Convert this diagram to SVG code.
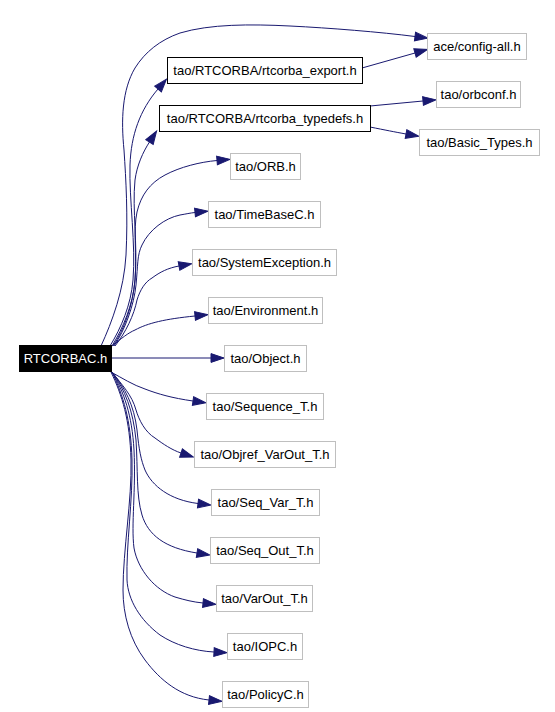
<svg xmlns="http://www.w3.org/2000/svg" width="555" height="712" viewBox="0 0 555 712">
<style>
.n rect{fill:#ffffff;stroke:#bfbfbf;stroke-width:1}
.n.b rect{stroke:#000000}
.n.r rect{fill:#000000;stroke:#000000}
.n text{font-family:"Liberation Sans",Arial,sans-serif;font-size:13px;fill:#000000;text-anchor:middle}
.n.r text{fill:#ffffff}
#edges path{fill:none;stroke:#191970;stroke-width:1;marker-end:url(#ah)}
</style>
<defs>
<marker id="ah" markerUnits="userSpaceOnUse" orient="auto" markerWidth="14" markerHeight="10" refX="0" refY="5" overflow="visible">
<path d="M0,0.6 L13,5 L0,9.4 z" fill="#191970" stroke="#191970" stroke-width="1"/>
</marker>
</defs>
<rect width="555" height="712" fill="#ffffff"/>
<g id="edges">
<path d="M101,346 C112,322 124,290 126,255 C128,215 126,180 124,150 C121,120 122,90 135,68 C145,52 160,40 180,33 C210,24 250,24 290,26 C330,28 380,32 415,36.5"/>
<path d="M110,346 C121,328 131,305 133,280 C136,245 129,200 130,165 C131,135 140,110 158,89"/>
<path d="M112,346 C123,328 133,305 135,280 C138,245 132,210 135,180 C137,165 143,152 149.5,142"/>
<path d="M113,346 C124,330 133,305 135,280 C137,255 133,230 137,212 C141,195 150,183 165,175 C180,167 200,162 217,160.5"/>
<path d="M114,346 C125,330 134,305 136,285 C138,265 137,255 142,245 C149,230 165,218 180,215 C186,214 190,213 195,212.5"/>
<path d="M115,346 C126,332 134,315 137,300 C140,290 145,282 152,278 C160,272 168,268 179,266"/>
<path d="M112,346 C122,338 128,333 135,330 C148,323 165,319 195,316"/>
<path d="M111,358 L211,358"/>
<path d="M111,372 C122,378 133,385 145,389 C158,394 172,398 193,401"/>
<path d="M112,372 C122,385 132,395 136,410 C139,420 145,432 155,438 C163,444 172,450 181,453"/>
<path d="M112,372 C125,388 134,405 137,430 C139,450 141,460 145,470 C152,486 170,500 198,503.5"/>
<path d="M112,372 C125,390 133,410 136,440 C138,470 136,495 142,515 C148,535 165,548 197,553"/>
<path d="M112,372 C124,392 132,415 134,450 C136,490 131,525 134,548 C138,570 155,590 175,597 C185,600 193,602 203,603"/>
<path d="M112,372 C123,395 131,420 132,460 C133,500 126,545 127,580 C128,600 140,620 160,635 C175,645 195,651 214,652"/>
<path d="M111,372 C122,395 130,420 131,460 C132,500 123,550 123,590 C123,615 130,640 145,660 C160,680 180,697 209,700"/>
<path d="M362,68 L415,53"/>
<path d="M370,106 L423,101"/>
<path d="M370,127 C385,130 395,132 406,134"/>
</g>
<g id="n_ace_config_all" class="n"><rect x="427.5" y="33.5" width="99" height="26"/><text x="477" y="51">ace/config-all.h</text></g>
<g id="n_rtcorba_export" class="n b"><rect x="167.5" y="57.5" width="195" height="26"/><text x="265" y="75">tao/RTCORBA/rtcorba_export.h</text></g>
<g id="n_orbconf" class="n"><rect x="436.5" y="81.5" width="84" height="26"/><text x="478.5" y="99">tao/orbconf.h</text></g>
<g id="n_rtcorba_typedefs" class="n b"><rect x="159.5" y="105.5" width="211" height="26"/><text x="265" y="123">tao/RTCORBA/rtcorba_typedefs.h</text></g>
<g id="n_basic_types" class="n"><rect x="419.5" y="129.5" width="120" height="26"/><text x="479.5" y="147">tao/Basic_Types.h</text></g>
<g id="n_orb" class="n"><rect x="230.5" y="153.5" width="70" height="26"/><text x="265.5" y="171">tao/ORB.h</text></g>
<g id="n_timebasec" class="n"><rect x="208.5" y="201.5" width="112" height="26"/><text x="264.5" y="219">tao/TimeBaseC.h</text></g>
<g id="n_systemexception" class="n"><rect x="192.5" y="249.5" width="144" height="26"/><text x="264.5" y="267">tao/SystemException.h</text></g>
<g id="n_environment" class="n"><rect x="208.5" y="297.5" width="114" height="26"/><text x="265.5" y="315">tao/Environment.h</text></g>
<g id="n_rtcorbac" class="n r"><rect x="19.5" y="345.5" width="92" height="26"/><text x="65.5" y="363">RTCORBAC.h</text></g>
<g id="n_object" class="n"><rect x="224.5" y="345.5" width="82" height="26"/><text x="265.5" y="363">tao/Object.h</text></g>
<g id="n_sequence_t" class="n"><rect x="206.5" y="393.5" width="117" height="26"/><text x="265" y="411">tao/Sequence_T.h</text></g>
<g id="n_objref_varout_t" class="n"><rect x="194.5" y="441.5" width="141" height="26"/><text x="265" y="459">tao/Objref_VarOut_T.h</text></g>
<g id="n_seq_var_t" class="n"><rect x="211.5" y="489.5" width="108" height="26"/><text x="265.5" y="507">tao/Seq_Var_T.h</text></g>
<g id="n_seq_out_t" class="n"><rect x="210.5" y="537.5" width="109" height="26"/><text x="265" y="555">tao/Seq_Out_T.h</text></g>
<g id="n_varout_t" class="n"><rect x="216.5" y="585.5" width="96" height="26"/><text x="264.5" y="603">tao/VarOut_T.h</text></g>
<g id="n_iopc" class="n"><rect x="227.5" y="633.5" width="75" height="26"/><text x="265" y="651">tao/IOPC.h</text></g>
<g id="n_policyc" class="n"><rect x="222.5" y="681.5" width="86" height="26"/><text x="265.5" y="699">tao/PolicyC.h</text></g>
</svg>
